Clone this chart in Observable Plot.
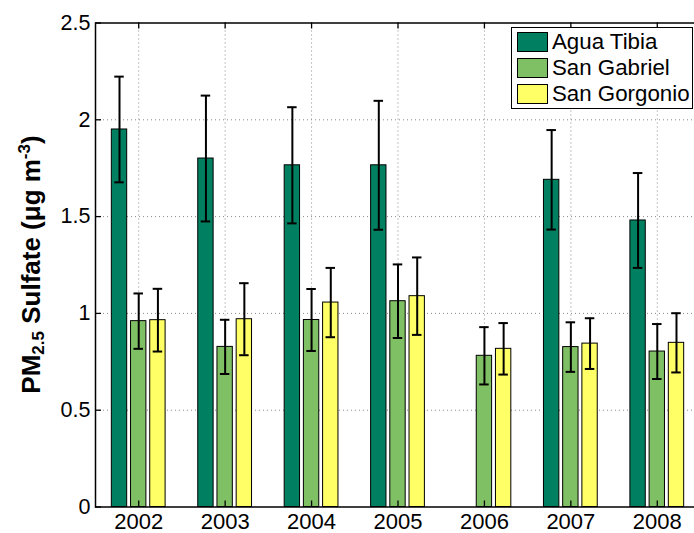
<!DOCTYPE html>
<html><head><meta charset="utf-8">
<script src="https://cdn.jsdelivr.net/npm/d3@7"></script>
<script src="https://cdn.jsdelivr.net/npm/@observablehq/plot@0.6"></script>
<style>
body{margin:0;overflow:hidden;background:#fff;font-family:"Liberation Sans",Arial,sans-serif}
#wrap{position:relative;width:694px;height:533px;overflow:hidden}
.legend{position:absolute;left:511px;top:27px;width:180px;height:80px;border:1.3px solid #000;background:#fff}
.legend .row{position:absolute;left:5px;height:20px;display:flex;align-items:center}
.legend .sw{width:31px;height:20px;border:1px solid #000;box-sizing:border-box;margin-right:4px}
.legend .lab{font-size:22.3px;line-height:20px;color:#000;white-space:nowrap}
</style></head><body><div id="wrap"></div><script>
const years = ["2002","2003","2004","2005","2006","2007","2008"];
const seriesNames = ["Agua Tibia","San Gabriel","San Gorgonio"];
const seriesColors = ["#008060","#80c065","#ffff66"];
const aguaTibia = [1.95,1.80,1.765,1.765,null,1.69,1.48];
const aguaTibiaErr = [0.273,0.325,0.30,0.333,null,0.257,0.245];
const sanGabriel = [0.96,0.827,0.966,1.063,0.781,0.826,0.803];
const sanGabrielErr = [0.143,0.14,0.16,0.19,0.148,0.128,0.142];
const sanGorgonio = [0.965,0.97,1.056,1.089,0.817,0.844,0.848];
const sanGorgonioErr = [0.162,0.186,0.179,0.2,0.133,0.131,0.153];
const yTicks = [0,0.5,1,1.5,2,2.5];

const W=694,H=533,mL=95,mR=-6,mT=22.5,mB=26.5;
const plotW=W-mL-mR, plotH=H-mT-mB;
const slotW=2/9, half=slotW*0.8/2, cap=0.055;
const xPos=years.map((y,i)=>i+1);
const vals=[aguaTibia,sanGabriel,sanGorgonio], errs=[aguaTibiaErr,sanGabrielErr,sanGorgonioErr];
const rows=[];
years.forEach((yr,i)=>vals.forEach((v,j)=>{
  if(v[i]!=null) rows.push({year:yr,series:seriesNames[j],c:i+1+(j-1)*slotW,value:v[i],err:errs[j][i]});
}));
const grid={stroke:"#8a8a8a",strokeDasharray:"1,3",strokeWidth:1};
const chart=Plot.plot({
  width:W,height:H,marginLeft:mL,marginRight:mR,marginTop:mT,marginBottom:mB,
  style:{fontFamily:"'Liberation Sans',Arial,sans-serif",color:"#000",background:"#fff",overflow:"visible"},
  x:{domain:[0.5,7.5],axis:null},
  y:{domain:[0,2.5],axis:null},
  color:{domain:seriesNames,range:seriesColors},
  marks:[
    Plot.ruleY(yTicks.slice(1,-1),grid),
    Plot.ruleX(xPos,grid),
    Plot.rect(rows,{x1:d=>d.c-half,x2:d=>d.c+half,y1:0,y2:"value",fill:"series",stroke:"#000",strokeWidth:1}),
    Plot.ruleX(rows,{x:"c",y1:d=>d.value-d.err,y2:d=>d.value+d.err,stroke:"#000",strokeWidth:2}),
    Plot.ruleY(rows,{y:d=>d.value+d.err,x1:d=>d.c-cap,x2:d=>d.c+cap,stroke:"#000",strokeWidth:2}),
    Plot.ruleY(rows,{y:d=>d.value-d.err,x1:d=>d.c-cap,x2:d=>d.c+cap,stroke:"#000",strokeWidth:2}),
    Plot.ruleX(xPos,{insetTop:plotH-6,stroke:"#000",strokeWidth:1.3}),
    Plot.ruleX(xPos,{insetBottom:plotH-6,stroke:"#000",strokeWidth:1.3}),
    Plot.ruleY(yTicks,{insetRight:plotW-6,stroke:"#000",strokeWidth:1.3}),
    Plot.ruleY(yTicks,{insetLeft:plotW-6,stroke:"#000",strokeWidth:1.3}),
    Plot.frame({stroke:"#000",strokeWidth:1.5}),
    Plot.axisX(xPos,{tickSize:0,tickPadding:6,fontSize:22,tickFormat:i=>years[i-1],label:null}),
    Plot.axisY(yTicks,{tickSize:0,tickPadding:5,fontSize:21.5,tickFormat:d=>String(d),label:null})
  ]
});
document.getElementById("wrap").appendChild(chart);
const svg=d3.select(chart);
const t=svg.append("text").attr("transform",`translate(40,${(mT+H-mB)/2}) rotate(-90)`)
  .attr("text-anchor","middle").attr("font-weight","bold").attr("font-size",26).attr("fill","#000");
t.append("tspan").text("PM");
t.append("tspan").attr("font-size",17).attr("dy",4).text("2.5");
t.append("tspan").attr("dy",-4).text(" Sulfate (\u03bcg m");
t.append("tspan").attr("font-size",17).attr("dy",-10).text("-3");
t.append("tspan").attr("dy",10).text(")");

const lg=d3.select("#wrap").append("div").attr("class","legend");
seriesNames.forEach((s,i)=>{
  const r=lg.append("div").attr("class","row").style("top",(4+i*26)+"px");
  r.append("div").attr("class","sw").style("background",seriesColors[i]);
  r.append("div").attr("class","lab").text(s);
});
</script></body></html>
